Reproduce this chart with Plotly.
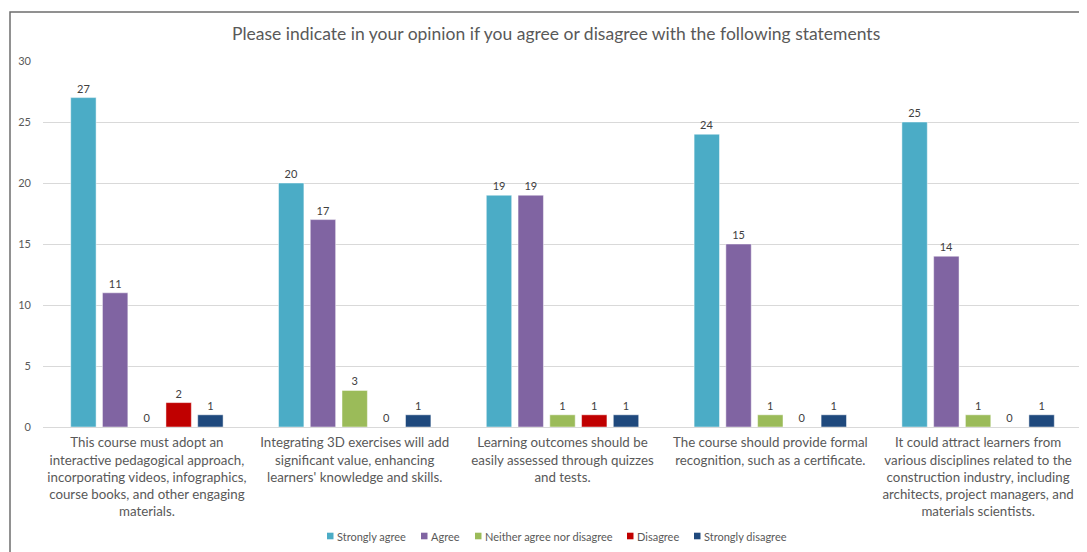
import plotly.graph_objects as go

categories = [
    "This course must adopt an<br>interactive pedagogical approach,<br>incorporating videos, infographics,<br>course books, and other engaging<br>materials.",
    "Integrating 3D exercises will add<br>significant value, enhancing<br>learners' knowledge and skills.",
    "Learning outcomes should be<br>easily assessed through quizzes<br>and tests.",
    "The course should provide formal<br>recognition, such as a certificate.",
    "It could attract learners from<br>various disciplines related to the<br>construction industry, including<br>architects, project managers, and<br>materials scientists.",
]
series_names = ["Strongly agree", "Agree", "Neither agree nor disagree", "Disagree", "Strongly disagree"]
strongly_agree = [27, 20, 19, 24, 25]
agree = [11, 17, 19, 15, 14]
neither = [0, 3, 1, 1, 1]
disagree = [2, 0, 1, 0, 0]
strongly_disagree = [1, 1, 1, 1, 1]
colors = ["#4BACC6", "#8064A2", "#9BBB59", "#C00000", "#1F497D"]

FONT = "Lato"
# page has an 8px body margin; figure coordinates = screen - 8
W, H = 1079, 544
L, R, T, B = 35, 5, 53, 125
PW = W - L - R
PH = H - T - B


def px_x(img_x):
    return (img_x - 8 - L) / PW


def px_y(img_y):
    return (H - B - (img_y - 8)) / PH


fig = go.Figure()
for name, vals, col in zip(series_names,
                           [strongly_agree, agree, neither, disagree, strongly_disagree],
                           colors):
    fig.add_trace(go.Bar(
        x=categories, y=vals, name=name,
        marker=dict(color=col, line=dict(color="rgba(255,255,255,0.6)", width=0.8)),
        text=[str(v) for v in vals], textposition="outside",
        textfont=dict(family=FONT, size=11, color="#404040"),
        cliponaxis=False, showlegend=False,
    ))

# custom compact legend (small squares next to the text, as in the original)
legend_x = [327, 421, 475, 627, 694]
shapes = [dict(type="rect", xref="paper", yref="paper",
               x0=px_x(10), x1=1.1, y0=-0.6, y1=px_y(12),
               line=dict(color="#6E6E6E", width=1.5), fillcolor="rgba(0,0,0,0)", layer="above")]
annotations = []
ly = 536
for name, col, lx in zip(series_names, colors, legend_x):
    shapes.append(dict(type="rect", xref="paper", yref="paper",
                       x0=px_x(lx), x1=px_x(lx + 6.5), y0=px_y(ly + 3.3), y1=px_y(ly - 3.3),
                       line=dict(width=0), fillcolor=col))
    annotations.append(dict(text=name, xref="paper", yref="paper", x=px_x(lx + 8), y=px_y(ly),
                            xanchor="left", yanchor="middle", showarrow=False,
                            font=dict(family=FONT, size=11, color="#595959")))

fig.update_layout(
    width=W, height=H,
    paper_bgcolor="white", plot_bgcolor="white",
    margin=dict(l=L, r=R, t=T, b=B),
    barmode="group", bargap=0.236, bargroupgap=0.2,
    title=dict(text="Please indicate in your opinion if you agree or disagree with the following statements",
               x=0.508, xanchor="center", y=1 - 26 / H, yanchor="middle",
               font=dict(family=FONT, size=17.5, color="#595959")),
    font=dict(family=FONT, color="#595959"),
    showlegend=False,
    xaxis=dict(showgrid=False, showline=False, ticks="", ticklabelstandoff=6,
               tickfont=dict(family=FONT, size=13.3, color="#595959")),
    yaxis=dict(range=[0, 30], dtick=5, showgrid=True, gridcolor="#D9D9D9", gridwidth=1,
               zeroline=True, zerolinecolor="#D9D9D9", zerolinewidth=1,
               ticks="", ticklabelstandoff=11,
               tickfont=dict(family=FONT, size=11, color="#595959")),
    shapes=shapes,
    annotations=annotations,
)

fig.write_html("out.html")
